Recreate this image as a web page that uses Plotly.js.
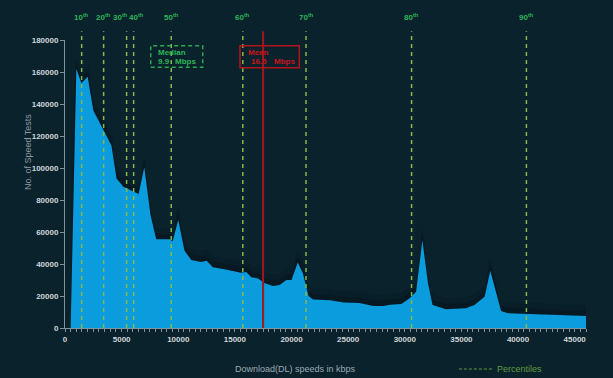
<!DOCTYPE html>
<html>
<head>
<meta charset="utf-8">
<script src="https://cdn.plot.ly/plotly-3.0.1.min.js"></script>
<style>html,body{margin:0;padding:0;background:#0a222c;}#chart{width:613px;height:378px;}</style>
</head>
<body>
<div id="chart"></div>
<script>
// Download speed bins (kbps) and number of speed tests
const speeds = [500, 1000, 1450, 2000, 2500, 3400, 4100, 4550, 5150, 6500, 7000, 7550, 8050, 9250, 9500, 10000, 10550, 11150, 12000, 12500, 13050, 13950, 14850, 15550, 16000, 16450, 17050, 17650, 18350, 18950, 19550, 20000, 20550, 21000, 21500, 21900, 23400, 24600, 26000, 27200, 28100, 28700, 29700, 30400, 31000, 31550, 32050, 32450, 33650, 35400, 36150, 37050, 37550, 38500, 39100, 41300, 42500, 44200, 46000];
const tests = [0, 162000, 153000, 157000, 136000, 124000, 114000, 93500, 88300, 83700, 100500, 70600, 55400, 55400, 54000, 67500, 48300, 42500, 41200, 42000, 38000, 36900, 35800, 34600, 35000, 31700, 31000, 27900, 26200, 26900, 30000, 30000, 41000, 34200, 20000, 17800, 17300, 16000, 15600, 13800, 13800, 14600, 15000, 18500, 22700, 55000, 27900, 14400, 11700, 12300, 14400, 19600, 35800, 10600, 9200, 8750, 8100, 7700, 7500];

// Percentiles (kbps)
const percentileVals = [1470, 3410, 5440, 6060, 9380, 15700, 21280, 30600, 40740];
const percentileLabels = ["10<sup>th</sup>", "20<sup>th</sup>", "30<sup>th</sup>", "40<sup>th</sup>", "50<sup>th</sup>", "60<sup>th</sup>", "70<sup>th</sup>", "80<sup>th</sup>", "90<sup>th</sup>"];
const labelShift = [0, 0, -6, 3, 0, 0, 0, 0, 0];

// X tick labels
const xTickVals = [0, 5000, 10000, 15000, 20000, 25000, 30000, 35000, 40000, 45000];
const xTickText = ["0", "5000", "10000", "15000", "20000", "25000", "30000", "35000", "40000", "45000"];

// Mean line position and summary labels
const meanLine = 17490;
const medianText = ["Median", "9.9", "Mbps"];
const meanText = ["Mean", "16.5", "Mbps"];

const shadow1 = tests.map(v => v > 0 ? v + 7000 : 0);
const shadow2 = tests.map(v => v > 0 ? v + 3500 : 0);

const traces = [
  {x: speeds, y: shadow1, type: 'scatter', mode: 'lines', fill: 'tozeroy', line: {width: 0, color: 'rgba(0,0,0,0)', shape: 'spline', smoothing: 0.6},
   fillcolor: 'rgba(3,16,22,0.15)', hoverinfo: 'skip', showlegend: false},
  {x: speeds, y: shadow2, type: 'scatter', mode: 'lines', fill: 'tozeroy', line: {width: 0, color: 'rgba(0,0,0,0)', shape: 'spline', smoothing: 0.4},
   fillcolor: 'rgba(3,16,22,0.3)', hoverinfo: 'skip', showlegend: false},
  {x: speeds, y: tests, type: 'scatter', mode: 'lines', fill: 'tozeroy',
   line: {width: 0, color: '#0a9cdc'}, fillcolor: '#0a9cdc', showlegend: false}
];

const green = '#2cb557';
const dashGreen = '#86b94a';
const shapes = [];
const annotations = [];

percentileVals.forEach((v, i) => {
  shapes.push({type: 'line', xref: 'x', yref: 'paper', x0: v, x1: v, y0: 0, y1: 1.03,
    line: {color: dashGreen, width: 1.5, dash: '4px,4px'}});
  annotations.push({xref: 'x', yref: 'paper', x: v, y: 1.08, yanchor: 'middle', xshift: labelShift[i], text: percentileLabels[i], showarrow: false,
    font: {family: 'Liberation Sans, Arial, sans-serif', size: 8, color: green, weight: 'bold'}});
});

// mean line
shapes.push({type: 'line', xref: 'x', yref: 'paper', x0: meanLine, x1: meanLine, y0: 0, y1: 1.03,
  line: {color: '#a3161c', width: 2}});

// median box
shapes.push({type: 'rect', xref: 'x', yref: 'y', x0: 7570, x1: 12160, y0: 163000, y1: 176400,
  line: {color: '#2aa84e', width: 1.5, dash: '4px,3px'}});
// mean box
shapes.push({type: 'rect', xref: 'x', yref: 'y', x0: 15450, x1: 20690, y0: 162700, y1: 176400,
  line: {color: '#b3141c', width: 1.5}});

const bf = (c) => ({family: 'Liberation Sans, Arial, sans-serif', size: 8, color: c, weight: 'bold'});
annotations.push({xref: 'x', yref: 'y', x: 8000, y: 172000, text: medianText[0], showarrow: false, xanchor: 'left', yanchor: 'middle', font: bf('#2cb557')});
annotations.push({xref: 'x', yref: 'y', x: 8000, y: 166500, text: medianText[1], showarrow: false, xanchor: 'left', yanchor: 'middle', font: bf('#2cb557')});
annotations.push({xref: 'x', yref: 'y', x: 9500, y: 166500, text: medianText[2], showarrow: false, xanchor: 'left', yanchor: 'middle', font: bf('#2cb557')});
annotations.push({xref: 'x', yref: 'y', x: 15950, y: 172000, text: meanText[0], showarrow: false, xanchor: 'left', yanchor: 'middle', font: bf('#c8141c')});
annotations.push({xref: 'x', yref: 'y', x: 16250, y: 166500, text: meanText[1], showarrow: false, xanchor: 'left', yanchor: 'middle', font: bf('#c8141c')});
annotations.push({xref: 'x', yref: 'y', x: 18250, y: 166500, text: meanText[2], showarrow: false, xanchor: 'left', yanchor: 'middle', font: bf('#c8141c')});

// axis titles
annotations.push({xref: 'paper', yref: 'paper', x: 0.442, y: -0.143, yanchor: 'middle', text: 'Download(DL) speeds in kbps', showarrow: false,
  font: {family: 'Liberation Sans, Arial, sans-serif', size: 9, color: '#9aabb3'}});
annotations.push({xref: 'paper', yref: 'paper', x: -0.071, y: 0.611, xanchor: 'center', yanchor: 'middle', text: 'No. of Speed Tests', showarrow: false, textangle: -90,
  font: {family: 'Liberation Sans, Arial, sans-serif', size: 9, color: '#8a9ba3'}});

// legend
shapes.push({type: 'line', xref: 'paper', yref: 'paper', x0: 0.756, x1: 0.822, y0: -0.1424, y1: -0.1424,
  line: {color: '#5f9c3c', width: 1.2, dash: '3px,2px'}});
annotations.push({xref: 'paper', yref: 'paper', x: 0.826, y: -0.1424, yanchor: 'middle', text: 'Percentiles', showarrow: false, xanchor: 'left',
  font: {family: 'Liberation Sans, Arial, sans-serif', size: 9, color: '#5f9c3c'}});

const tickFont = {family: 'Liberation Sans, Arial, sans-serif', size: 8, color: '#d0d6d9', weight: 'bold'};

const layout = {
  width: 613, height: 378,
  margin: {l: 65, r: 27, t: 40, b: 50},
  paper_bgcolor: '#0a222c', plot_bgcolor: '#0a222c',
  showlegend: false,
  xaxis: {range: [0, 46000], showgrid: false, zeroline: false, showline: true, linecolor: '#7d939e', linewidth: 1,
    ticks: 'outside', ticklen: 3, tickcolor: '#7d939e', tickmode: 'array', tickvals: xTickVals, ticktext: xTickText,
    minor: {dtick: 500, ticks: 'outside', ticklen: 3, tickcolor: '#7d939e'},
    tickfont: tickFont, fixedrange: true},
  yaxis: {range: [0, 180000], showgrid: false, zeroline: false, showline: true, linecolor: '#7d939e', linewidth: 1,
    ticks: 'outside', ticklen: 4, tickcolor: '#7d939e', dtick: 20000, tickformat: 'd',
    tickfont: tickFont, fixedrange: true},
  shapes: shapes,
  annotations: annotations
};

Plotly.newPlot('chart', traces, layout, {displayModeBar: false, staticPlot: true});
</script>
</body>
</html>
